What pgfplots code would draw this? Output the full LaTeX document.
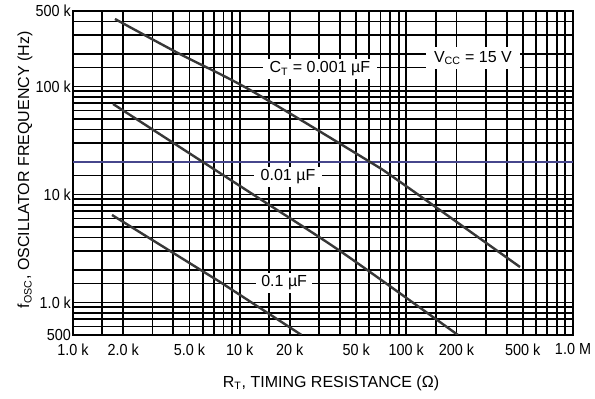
\documentclass[border=0pt]{standalone}
\usepackage{pgfplots}
\pgfplotsset{compat=1.18}
\usepackage{fontspec}
\setmainfont{Liberation Sans}
\newfontfamily\tickfont{Liberation Sans}[FakeStretch=0.9]
\definecolor{scanblue}{RGB}{70,70,140}
\definecolor{curve}{RGB}{55,55,55}
\begin{document}
\begin{tikzpicture}
\begin{axis}[
  at={(0,0)}, anchor=south west,
  scale only axis, width=375pt, height=243pt,
  xmode=log, ymode=log,
  xmin=1000, xmax=1000000, ymin=500, ymax=500000,
  xtick={1000,2000,5000,10000,20000,50000,100000,200000,500000,1000000},
  xticklabels={1.0 k,2.0 k,5.0 k,10 k,20 k,50 k,100 k,200 k,500 k,1.0 M},
  ytick={500,1000,10000,100000,500000},
  yticklabels={500,1.0 k,10 k,100 k,500 k},
  minor xtick={1500,3000,4000,6000,7000,8000,9000,15000,30000,40000,60000,70000,80000,90000,150000,300000,400000,600000,700000,800000,900000},
  minor ytick={600,700,800,900,1500,2000,3000,4000,5000,6000,7000,8000,9000,15000,20000,30000,40000,50000,60000,70000,80000,90000,150000,200000,300000,400000},
  grid=both,
  major grid style={black, line width=1.4pt},
  minor grid style={black, line width=1.4pt},
  major tick length=0pt, minor tick length=0pt,
  axis line style={black, line width=1.5pt},
  ticklabel style={font=\fontsize{12}{14}\selectfont\tickfont},
  xticklabel style={yshift=-3pt},
  yticklabel style={xshift=2pt},
  xlabel={R\textsubscript{T}, TIMING RESISTANCE (Ω)},
  ylabel={f\textsubscript{OSC}, OSCILLATOR FREQUENCY (Hz)},
  label style={font=\fontsize{12}{14}\selectfont},
  xlabel style={at={(axis description cs:0.516,-0.148)}, anchor=center},
  ylabel style={at={(axis description cs:-0.096,0.51)}, anchor=center},
]
\addplot[scanblue, line width=0.9pt] coordinates {(1000,20000) (1000000,20000)};
\addplot[curve, line width=1.8pt, smooth] coordinates {(1786,421700) (4266,204000) (11530,92900) (58100,20800) (91600,13100) (481000,2130)};
\addplot[curve, line width=1.8pt, smooth] coordinates {(1738,68900) (12700,9480) (41700,2870) (204000,500)};
\addplot[curve, line width=1.8pt] coordinates {(1714,6460) (7621,1550) (23500,500)};
\node[fill=white, inner xsep=5pt, inner ysep=2pt, font=\fontsize{12}{14}\selectfont] at (axis cs:30300,145000) {C\textsubscript{T} = 0.001 µF};
\node[fill=white, inner xsep=6pt, inner ysep=3pt, font=\fontsize{12}{14}\selectfont] at (axis cs:251000,184000) {V\textsubscript{CC} = 15 V};
\node[fill=white, inner xsep=5pt, inner ysep=2pt, font=\fontsize{12}{14}\selectfont] at (axis cs:19500,14500) {0.01 µF};
\node[fill=white, inner xsep=4pt, inner ysep=2pt, font=\fontsize{12}{14}\selectfont] at (axis cs:18500,1520) {0.1 µF};
\end{axis}
\pgfresetboundingbox
\path[use as bounding box] (-54.75pt,-48pt) rectangle (391.5pt,251.25pt);
\end{tikzpicture}
\end{document}
